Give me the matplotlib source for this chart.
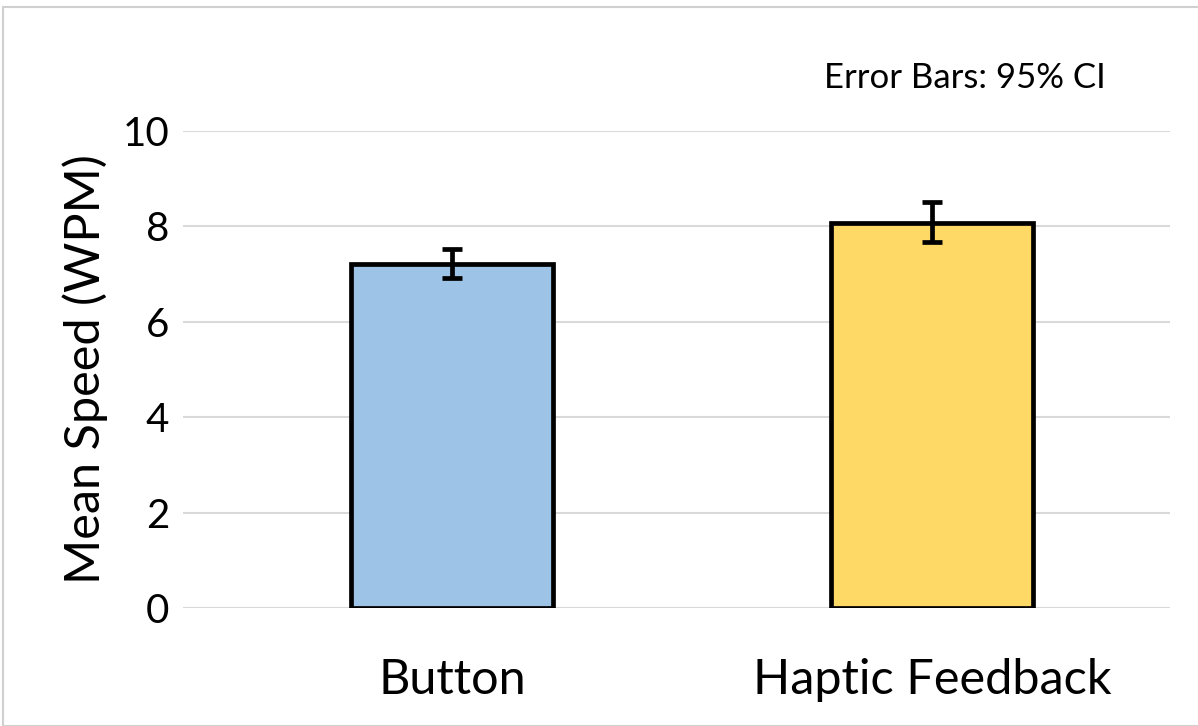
import matplotlib.pyplot as plt
from matplotlib.patches import Rectangle

categories = ["Button", "Haptic Feedback"]
means = [7.21, 8.08]
ci_low = [6.92, 7.67]
ci_high = [7.52, 8.52]
colors = ["#9DC3E6", "#FFD966"]

plt.rcParams['font.family'] = ['Lato', 'DejaVu Sans']

fig = plt.figure(figsize=(11.98, 7.26), dpi=100)
ax = fig.add_axes([183 / 1198, 1 - 608 / 726, (1170 - 183) / 1198, (608 - 131) / 726])

x = list(range(len(categories)))
yerr = [[m - lo for m, lo in zip(means, ci_low)], [hi - m for m, hi in zip(means, ci_high)]]
ax.bar(x, means, width=0.42, color=colors, edgecolor="black", linewidth=3.4, zorder=3)
ax.errorbar(x, means, yerr=yerr, fmt="none", ecolor="black", elinewidth=3.4,
            capsize=7, capthick=3.4, zorder=4)

ax.set_ylim(0, 10)
ax.set_xlim(-0.56, 1.496)
ax.set_yticks([0, 2, 4, 6, 8, 10])
ax.yaxis.grid(True, color="#d9d9d9", linewidth=1.5, zorder=0)
ax.set_axisbelow(True)
for s in ax.spines.values():
    s.set_visible(False)
ax.tick_params(axis="y", length=0, labelsize=29, pad=10)
ax.tick_params(axis="x", length=0, pad=36)
ax.set_xticks(x)
ax.set_xticklabels(categories, fontsize=35)
ax.set_ylabel("Mean Speed (WPM)", fontsize=35, labelpad=10)

fig.text(965 / 1198, 1 - 78 / 726, "Error Bars: 95% CI", fontsize=25, ha="center", va="center")

fig.patches.append(Rectangle((3 / 1198, 0), 1.2, 1 - 7 / 726, transform=fig.transFigure,
                             fill=False, edgecolor="#d0d0d0", linewidth=1.5))

fig.savefig("out.png", dpi=100)
